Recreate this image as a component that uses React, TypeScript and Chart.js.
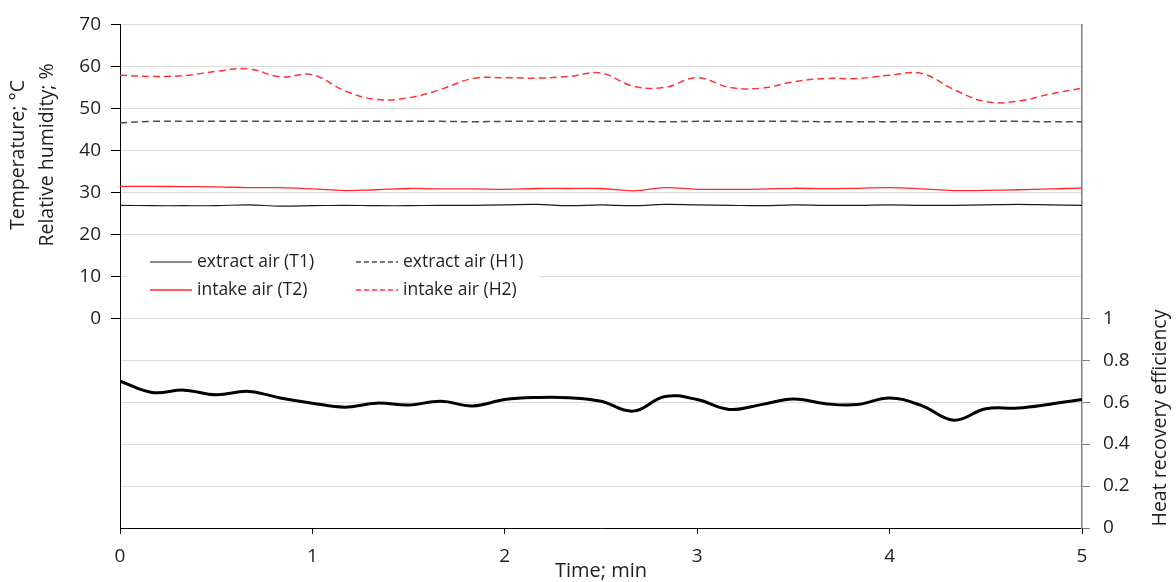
import React, { useEffect, useRef } from 'react';
import { Chart, registerables } from 'chart.js';

Chart.register(...registerables);

// ---- data ----
const timeMin = [0, 0.167, 0.333, 0.5, 0.667, 0.833, 1, 1.167, 1.333, 1.5, 1.667, 1.833, 2, 2.167, 2.333, 2.5, 2.667, 2.833, 3, 3.167, 3.333, 3.5, 3.667, 3.833, 4, 4.167, 4.333, 4.5, 4.667, 4.833, 5];

const extractT1 = [26.9, 26.8, 26.8, 26.8, 27.0, 26.7, 26.8, 26.9, 26.8, 26.8, 26.9, 26.9, 27.0, 27.1, 26.8, 27.0, 26.8, 27.1, 27.0, 26.9, 26.8, 27.0, 26.9, 26.9, 27.0, 26.9, 26.9, 27.0, 27.1, 27.0, 26.9];
const intakeT2 = [31.4, 31.4, 31.35, 31.3, 31.1, 31.1, 30.8, 30.4, 30.6, 30.9, 30.8, 30.8, 30.7, 30.9, 30.9, 30.9, 30.35, 31.1, 30.7, 30.7, 30.75, 30.95, 30.85, 30.95, 31.1, 30.8, 30.4, 30.45, 30.6, 30.8, 31.0];
const extractH1 = [46.5, 46.9, 46.9, 46.9, 46.9, 46.9, 46.9, 46.9, 46.9, 46.9, 46.9, 46.8, 46.9, 46.9, 46.9, 46.9, 46.9, 46.8, 46.9, 46.9, 46.9, 46.9, 46.8, 46.8, 46.8, 46.8, 46.8, 46.9, 46.9, 46.8, 46.8];
const intakeH2 = [57.9, 57.6, 57.8, 58.8, 59.4, 57.5, 58.0, 54.2, 52.1, 52.5, 54.5, 57.1, 57.3, 57.2, 57.6, 58.4, 55.3, 55.0, 57.3, 55.0, 54.8, 56.3, 57.1, 57.1, 57.9, 58.3, 54.5, 51.6, 51.7, 53.4, 54.8];
const efficiency = [0.70, 0.646, 0.657, 0.635, 0.651, 0.62, 0.595, 0.576, 0.595, 0.586, 0.604, 0.582, 0.612, 0.622, 0.621, 0.604, 0.557, 0.627, 0.612, 0.565, 0.588, 0.615, 0.592, 0.588, 0.62, 0.583, 0.514, 0.568, 0.572, 0.59, 0.612];

const seriesLabels = ['extract air (T1)', 'intake air (T2)', 'extract air (H1)', 'intake air (H2)', 'Heat recovery efficiency'];
const leftTitleLines = ['Temperature; °C', 'Relative humidity; %'];
const rightTitle = 'Heat recovery efficiency';
const xTitle = 'Time; min';

const FONT = "'Open Sans', 'DejaVu Sans', sans-serif";
const TEXT = '#1f1f1f';
const GRID = '#d9d9d9';
const TICK_SIZE = 19;

const pts = (ys: number[]) => ys.map((y, i) => ({ x: timeMin[i], y }));

const styles = [
  { color: '#1a1a1a', width: 1.2, dash: [] as number[] },
  { color: '#ff2a2a', width: 1.3, dash: [] as number[] },
  { color: '#4d4d4d', width: 1.5, dash: [7, 4] },
  { color: '#ff3333', width: 1.5, dash: [7, 4] },
  { color: '#000000', width: 3, dash: [] as number[] },
];

const insideLegend = {
  id: 'insideLegend',
  afterDatasetsDraw(chart: any) {
    const ctx = chart.ctx as CanvasRenderingContext2D;
    ctx.save();
    ctx.fillStyle = '#ffffff';
    ctx.fillRect(128, 240, 412, 64);
    const order = [0, 2, 1, 3];
    const cols = [150, 356];
    const rows = [262, 290];
    order.forEach((si, k) => {
      const col = k % 2;
      const row = Math.floor(k / 2);
      const st = styles[si];
      const x0 = cols[col];
      const y = rows[row];
      ctx.beginPath();
      ctx.strokeStyle = st.color;
      ctx.lineWidth = st.width;
      ctx.setLineDash(st.dash.length ? [5, 3] : []);
      ctx.moveTo(x0, y);
      ctx.lineTo(x0 + 42, y);
      ctx.stroke();
      ctx.setLineDash([]);
      ctx.fillStyle = TEXT;
      ctx.font = `17.5px ${FONT}`;
      ctx.textBaseline = 'middle';
      ctx.textAlign = 'left';
      ctx.fillText(seriesLabels[si], x0 + 47, y);
    });
    ctx.restore();
  },
};

const axisTitles = {
  id: 'axisTitles',
  afterDraw(chart: any) {
    const ctx = chart.ctx as CanvasRenderingContext2D;
    ctx.save();
    ctx.fillStyle = TEXT;
    ctx.font = `19.5px ${FONT}`;
    ctx.textAlign = 'center';
    ctx.textBaseline = 'middle';
    const lx = [18, 47];
    leftTitleLines.forEach((t, i) => {
      ctx.save();
      ctx.translate(lx[i], 155);
      ctx.rotate(-Math.PI / 2);
      ctx.fillText(t, 0, 0);
      ctx.restore();
    });
    ctx.save();
    ctx.translate(1160, 418);
    ctx.rotate(-Math.PI / 2);
    ctx.fillText(rightTitle, 0, 0);
    ctx.restore();
    const xa = chart.chartArea;
    ctx.font = `20px ${FONT}`;
    ctx.fillText(xTitle, (xa.left + xa.right) / 2, 571);
    ctx.restore();
  },
};

export default function App() {
  const ref = useRef<HTMLCanvasElement | null>(null);

  useEffect(() => {
    if (!ref.current) return;
    const datasets = [extractT1, intakeT2, extractH1, intakeH2, efficiency].map((d, i) => ({
      label: seriesLabels[i],
      data: pts(d),
      borderColor: styles[i].color,
      backgroundColor: styles[i].color,
      borderWidth: styles[i].width,
      borderDash: styles[i].dash,
      pointRadius: 0,
      tension: 0.4,
      fill: false,
      yAxisID: i === 4 ? 'y2' : 'y',
    }));
    const chart = new Chart(ref.current, {
      type: 'line',
      data: { datasets },
      plugins: [insideLegend, axisTitles],
      options: {
        animation: false,
        responsive: true,
        maintainAspectRatio: false,
        layout: { padding: { top: 16, left: 0, right: 0, bottom: 0 } },
        plugins: { legend: { display: false }, tooltip: { enabled: false } },
        scales: {
          x: {
            type: 'linear',
            min: 0,
            max: 5,
            ticks: { stepSize: 1, padding: 11, color: TEXT, font: { family: FONT, size: TICK_SIZE } },
            grid: { drawOnChartArea: false, drawTicks: true, tickLength: 6, tickColor: '#000' },
            border: { color: '#000', width: 1 },
            afterFit: (s: any) => { s.height = 54; },
          },
          y: {
            position: 'left',
            min: -50,
            max: 70,
            ticks: {
              stepSize: 10,
              padding: 10,
              color: TEXT,
              font: { family: FONT, size: TICK_SIZE },
              callback: (v: any) => (Number(v) >= 0 ? String(v) : ''),
            },
            grid: {
              color: GRID,
              lineWidth: 1,
              tickLength: 9,
              tickColor: (c: any) => (c.tick && c.tick.value < 0 ? 'rgba(0,0,0,0)' : '#000'),
            },
            border: { color: '#000', width: 1 },
            afterFit: (s: any) => { s.width = 120; },
          },
          y2: {
            position: 'right',
            min: 0,
            max: 2.4,
            ticks: {
              stepSize: 0.2,
              padding: 13,
              color: TEXT,
              font: { family: FONT, size: TICK_SIZE },
              callback: (v: any) => (Number(v) <= 1.0001 ? String(Number(Number(v).toFixed(1))) : ''),
            },
            grid: {
              drawOnChartArea: false,
              tickLength: 8,
              tickColor: (c: any) => (c.tick && c.tick.value > 1.0001 ? 'rgba(0,0,0,0)' : '#7f7f7f'),
            },
            border: { color: '#7f7f7f', width: 1.5 },
            afterFit: (s: any) => { s.width = 94; },
          },
        },
      } as any,
    });
    return () => chart.destroy();
  }, []);

  return (
    <div style={{ position: 'absolute', left: 0, top: 0, width: 1176, height: 582 }}>
      <canvas ref={ref} />
    </div>
  );
}
